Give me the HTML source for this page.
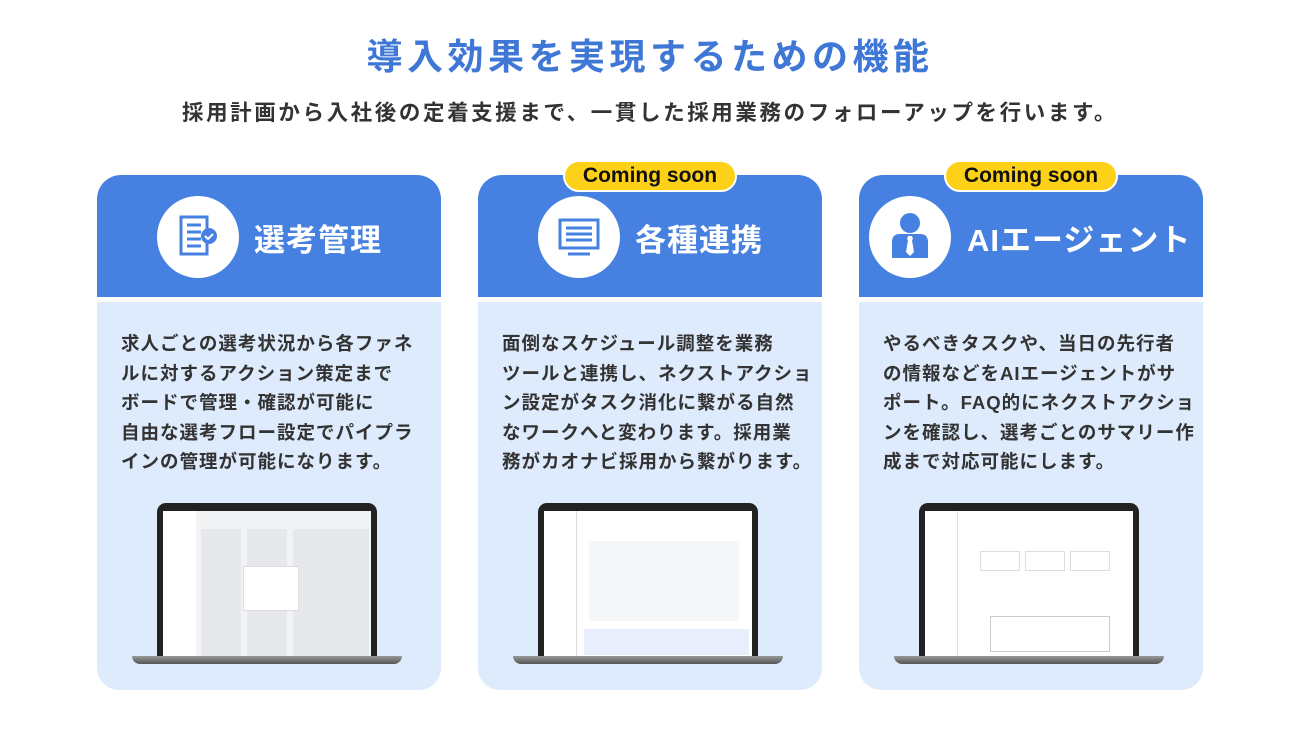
<!DOCTYPE html>
<html><head><meta charset="utf-8"><style>
*{margin:0;padding:0;box-sizing:border-box}
body{width:1300px;height:731px;background:#fff;position:relative;overflow:hidden;font-family:"Liberation Sans","Noto Sans CJK JP",sans-serif;}
.t{position:absolute;left:0;width:1300px;text-align:center;font-weight:bold}
.card{position:absolute;top:175px;width:344px;height:515px}
.hd{position:absolute;left:0;top:0;width:344px;height:122px;background:#4680E0;border-radius:24px 24px 0 0}
.bd{position:absolute;left:0;top:127px;width:344px;height:388px;background:#DDEBFC;border-radius:0 0 22px 22px}
.circ{position:absolute;left:60px;top:21px;width:82px;height:82px;border-radius:50%;background:#fff}
.ht{position:absolute;left:157px;top:40px;color:#fff;font-size:31px;font-weight:bold;letter-spacing:1px;white-space:nowrap}
.tx{position:absolute;left:24px;top:27px;font-size:18.5px;font-weight:bold;color:#333;line-height:29.5px;letter-spacing:1px;white-space:nowrap}
.badge{position:absolute;top:-15px;left:85px;width:174px;height:32px;border-radius:16px;background:#FCD117;border:2px solid #fff;text-align:center;font-size:21px;font-weight:bold;line-height:28px;color:#111}
.lap{position:absolute;left:35px;top:201px;width:270px;height:160px}
.scr{position:absolute;left:25px;top:0;width:220px;height:154px;background:#222;border-radius:9px 9px 0 0}
.in{position:absolute;left:6px;top:8px;width:208px;height:146px;background:#f2f3f5}
.side{position:absolute;left:0;top:0;width:33px;height:146px;background:#fff}
.base{position:absolute;left:0;top:153px;width:270px;height:8px;background:linear-gradient(#999,#555);border-radius:0 0 10px 10px}
.col{position:absolute;top:18px;width:40px;height:128px;background:#e6e8ec}
</style></head><body>
<div class="t" style="top:28px;font-size:36px;color:#3F77D6;letter-spacing:4.5px">導入効果を実現するための機能</div>
<div class="t" style="top:96px;font-size:21.5px;color:#333;letter-spacing:2.6px">採用計画から入社後の定着支援まで、一貫した採用業務のフォローアップを行います。</div>

<div class="card" style="left:97px">
<div class="hd"><div class="circ"><svg width="82" height="82"><rect x="24" y="21" width="26" height="37" fill="none" stroke="#4680E0" stroke-width="3"/><g stroke="#4680E0" stroke-width="3"><line x1="30" y1="29" x2="44" y2="29"/><line x1="30" y1="36" x2="44" y2="36"/><line x1="30" y1="43" x2="44" y2="43"/><line x1="30" y1="50" x2="44" y2="50"/></g><circle cx="52" cy="40" r="8" fill="#4680E0"/><path d="M48 40l3 3 5-5" stroke="#fff" stroke-width="2" fill="none"/></svg></div><div class="ht">選考管理</div></div>
<div class="bd"><div class="tx">求人ごとの選考状況から各ファネ<br>ルに対するアクション策定まで<br>ボードで管理・確認が可能に<br>自由な選考フロー設定でパイプラ<br>インの管理が可能になります。</div>
<div class="lap"><div class="scr"><div class="in"><div class="side"></div><div class="col" style="left:38px"></div><div class="col" style="left:84px"></div><div class="col" style="left:130px"></div><div class="col" style="left:170px;width:36px"></div><div style="position:absolute;left:80px;top:55px;width:56px;height:45px;background:#fff;border:1px solid #ddd"></div></div></div><div class="base"></div></div></div>
</div>

<div class="card" style="left:478px">
<div class="hd"><div class="circ"><svg width="82" height="82"><rect x="22" y="24" width="38" height="28" fill="none" stroke="#4680E0" stroke-width="3"/><g stroke="#4680E0" stroke-width="3"><line x1="28" y1="32" x2="54" y2="32"/><line x1="28" y1="38" x2="54" y2="38"/><line x1="28" y1="44" x2="54" y2="44"/><line x1="30" y1="58" x2="52" y2="58"/></g></svg></div><div class="ht">各種連携</div></div>
<div class="badge">Coming soon</div>
<div class="bd"><div class="tx">面倒なスケジュール調整を業務<br>ツールと連携し、ネクストアクショ<br>ン設定がタスク消化に繋がる自然<br>なワークへと変わります。採用業<br>務がカオナビ採用から繋がります。</div>
<div class="lap"><div class="scr"><div class="in" style="background:#fff"><div class="side" style="border-right:1px solid #ddd"></div><div style="position:absolute;left:45px;top:30px;width:150px;height:80px;background:#f5f6f8"></div><div style="position:absolute;left:40px;top:118px;width:165px;height:26px;background:#e8eefb"></div></div></div><div class="base"></div></div></div>
</div>

<div class="card" style="left:859px">
<div class="hd"><div class="circ" style="left:10px"><svg width="82" height="82"><circle cx="41" cy="27" r="10" fill="#4680E0"/><path d="M23 62v-16q0-8 8-8h20q8 0 8 8v16z" fill="#4680E0"/><path d="M39 40h4l1 3-1 1 2 12-4 4-4-4 2-12-1-1z" fill="#fff"/></svg></div><div class="ht" style="left:108px;letter-spacing:1px">AIエージェント</div></div>
<div class="badge">Coming soon</div>
<div class="bd"><div class="tx">やるべきタスクや、当日の先行者<br>の情報などをAIエージェントがサ<br>ポート。FAQ的にネクストアクショ<br>ンを確認し、選考ごとのサマリー作<br>成まで対応可能にします。</div>
<div class="lap"><div class="scr"><div class="in" style="background:#fff"><div class="side" style="border-right:1px solid #ddd"></div><div style="position:absolute;left:55px;top:40px;width:40px;height:20px;border:1px solid #ddd"></div><div style="position:absolute;left:100px;top:40px;width:40px;height:20px;border:1px solid #ddd"></div><div style="position:absolute;left:145px;top:40px;width:40px;height:20px;border:1px solid #ddd"></div><div style="position:absolute;left:65px;top:105px;width:120px;height:36px;border:1px solid #ccc"></div></div></div><div class="base"></div></div></div>
</div>
</body></html>
